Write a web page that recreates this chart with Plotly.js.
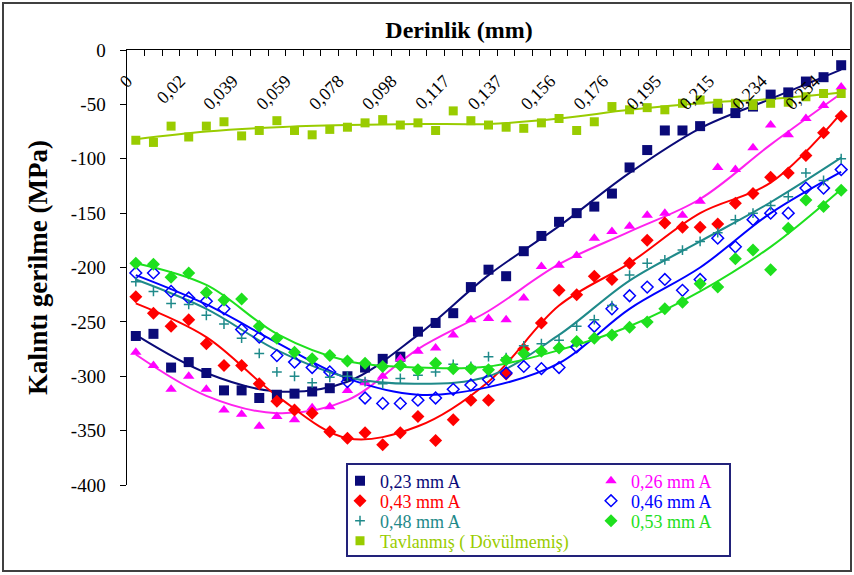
<!DOCTYPE html>
<html>
<head>
<meta charset="utf-8">
<script src="https://cdn.plot.ly/plotly-3.0.1.min.js"></script>
<style>html,body{margin:0;padding:0;background:#fff;}#chart{width:854px;height:575px;}</style>
</head>
<body>
<div id="chart"></div>
<script>
// ---- data ----
const depthLabels = ["0","0,02","0,039","0,059","0,078","0,098","0,117","0,137","0,156","0,176","0,195","0,215","0,234","0,254"];
const labelEvery = 3; // one depth label every 3 categories

const seriesNames = ["0,23 mm A","0,26 mm A","0,43 mm A","0,46 mm A","0,48 mm A","0,53 mm A","Tavlanmış ( Dövülmemiş)"];

const s023 = [-263,-261,-292,-287,-297,-313,-313,-320,-317,-316,-314,-311,-300,-292,-284,-282,-259,-251,-242,-218,-202,-208,-185,-171,-158,-150,-144,-132,-108,-92,-74,-74,-70,-54,-58,-52,-41,-39,-29,-25,-14];
const s026 = [-278,-290,-312,-300,-312,-331,-335,-346,-337,-340,-329,-328,-313,-306,-300,-284,-277,-274,-262,-248,-247,-248,-228,-199,-198,-189,-173,-167,-162,-152,-150,-152,-139,-108,-110,-90,-69,-78,-63,-51,-34];
const s043 = [-227,-242,-254,-248,-270,-290,-290,-307,-323,-331,-334,-351,-357,-352,-363,-352,-337,-359,-340,-322,-322,-298,-275,-251,-221,-225,-208,-211,-196,-175,-159,-163,-163,-160,-141,-132,-117,-113,-97,-76,-61];
const s046 = [-205,-205,-222,-228,-231,-238,-257,-264,-281,-287,-292,-296,-305,-320,-325,-325,-322,-320,-312,-308,-303,-297,-291,-293,-292,-273,-254,-238,-226,-218,-211,-221,-211,-173,-181,-156,-150,-150,-127,-127,-110];
const s048 = [-213,-222,-233,-234,-244,-252,-265,-279,-296,-300,-306,-301,-300,-305,-307,-302,-299,-296,-289,-291,-282,-283,-272,-270,-267,-254,-248,-235,-207,-196,-193,-184,-176,-168,-156,-150,-143,-135,-113,-120,-100];
const s053 = [-196,-197,-209,-205,-223,-230,-229,-254,-265,-278,-284,-281,-286,-288,-291,-290,-294,-288,-293,-293,-294,-285,-279,-277,-274,-268,-265,-262,-255,-250,-238,-232,-215,-218,-192,-184,-202,-164,-138,-144,-129];
const sTav = [-83,-85,-70,-80,-70,-66,-79,-74,-65,-74,-78,-73,-71,-67,-64,-69,-67,-74,-56,-65,-69,-71,-72,-67,-63,-74,-66,-52,-55,-53,-55,-49,-46,-49,-49,-51,-49,-48,-43,-40,-40];

// trend lines, read at every 4th category
const fitCategories = [0,4,8,12,16,20,24,28,32,36,40];
const fit023 = [-262,-297,-314,-305,-262,-207,-162,-113,-72,-45,-18];
const fit026 = [-280,-318,-334,-322,-275,-240,-197,-167,-137,-87,-40];
const fit043 = [-233,-264,-318,-357,-346,-305,-235,-196,-150,-122,-58];
const fit046 = [-207,-234,-269,-302,-317,-310,-288,-238,-200,-150,-112];
const fit048 = [-211,-238,-276,-301,-307,-300,-262,-212,-176,-140,-99];
const fit053 = [-196,-216,-261,-286,-292,-291,-276,-254,-222,-181,-128];
const fitTav = [-82,-75,-71,-69,-68,-68,-63,-55,-49,-45,-39];

const yTicks = [0,-50,-100,-150,-200,-250,-300,-350,-400];

// ---- build ----
const pointsData = [s023,s026,s043,s046,s048,s053,sTav];
const fitsData = [fit023,fit026,fit043,fit046,fit048,fit053,fitTav];
const colors = ["#0a0a78","#ff00ff","#ff0000","#0000ff","#1f8a8a","#1ee01e","#99cc00"];
const lineColors = ["#0a0a78","#ff22ee","#ff0000","#0000ff","#1f8a8a","#1ee01e","#99cc00"];
const symbols = ["square","triangle-up","diamond","diamond-open","cross-thin-open","diamond","square"];
const sizes = [10,10,10,9,7,10,9];
const legendRow = ["legend","legend","legend2","legend2","legend3","legend3","legend4"];

const nCat = s023.length;
const cats = Array.from({length:nCat},(_,i)=>i);

const traces = [];
fitsData.forEach((f,k)=>{
  traces.push({x:fitCategories,y:f,mode:"lines",line:{color:lineColors[k],width:2,shape:"spline",smoothing:1},
    showlegend:false,hoverinfo:"skip"});
});
pointsData.forEach((s,k)=>{
  const open = symbols[k].indexOf("open")>=0;
  traces.push({x:cats,y:s,mode:"markers",legend:legendRow[k],
    name:'<span style="color:'+colors[k]+'">'+seriesNames[k]+'</span>',
    marker:{symbol:symbols[k],size:sizes[k],color:colors[k],line:{color:colors[k],width:open?1.5:0}}});
});

const boundaryTicks = Array.from({length:nCat+1},(_,i)=>i-0.5);
const labelPos = depthLabels.map((_,j)=>j*labelEvery-0.5);

const W=854,H=575,ML=127,MR=4,MT=50,MB=90;
const PW=W-ML-MR, PH=H-MT-MB;
const serif = "Liberation Serif, Times New Roman, serif";
const px = v=>(v-ML)/PW, py = v=>1-(v-MT)/PH;

function legendAt(yc){
  return {orientation:"h",x:px(340),y:py(yc),xanchor:"left",yanchor:"middle",
    bgcolor:"rgba(0,0,0,0)",borderwidth:0,font:{size:18,family:serif},
    entrywidth:206,entrywidthmode:"pixels",itemwidth:30,traceorder:"normal"};
}

const layout = {
  width:W,height:H,
  margin:{l:ML,r:MR,t:MT,b:MB,pad:0,autoexpand:false},
  paper_bgcolor:"#fff",plot_bgcolor:"#fff",
  font:{family:serif,color:"#000",size:18},
  showlegend:true,
  title:{text:"<b>Derinlik (mm)</b>",font:{size:24,family:serif,color:"#000"},
    xref:"container",yref:"container",x:459/W,xanchor:"center",y:1-30/H,yanchor:"middle"},
  xaxis:{range:[-0.5,nCat-0.5],side:"top",showline:true,linecolor:"#000",linewidth:1.5,
    ticks:"inside",ticklen:6,tickcolor:"#000",tickwidth:1,tickmode:"array",tickvals:boundaryTicks,
    showticklabels:false,showgrid:false,zeroline:false},
  xaxis2:{overlaying:"x",anchor:"free",position:1-16/PH,side:"bottom",range:[-0.5,nCat-0.5],
    tickmode:"array",tickvals:labelPos,ticktext:depthLabels,tickangle:-45,ticks:"",
    showline:false,showgrid:false,zeroline:false,tickfont:{size:18,family:serif}},
  yaxis:{range:[-400,0],showline:true,linecolor:"#000",linewidth:1.5,ticks:"outside",ticklen:6,tickcolor:"#000",
    tickmode:"array",tickvals:yTicks,ticktext:yTicks.map(v=>String(v)),ticklabelstandoff:10,
    tickfont:{size:19,family:serif},showgrid:false,zeroline:false,
    title:{text:"<b>Kalıntı gerilme (MPa)</b>",font:{size:27,family:serif},standoff:15}},
  legend:legendAt(481),
  legend2:legendAt(501),
  legend3:legendAt(521),
  legend4:legendAt(541),
  shapes:[
    {type:"rect",xref:"paper",yref:"paper",x0:px(3),x1:px(851),y0:py(571),y1:py(3),
      line:{color:"#404040",width:2},fillcolor:"rgba(0,0,0,0)"},
    {type:"rect",xref:"paper",yref:"paper",layer:"below",x0:px(347),x1:px(730),y0:py(556),y1:py(464),
      line:{color:"#22227a",width:2},fillcolor:"#fff"}
  ]
};

traces.push({x:[],y:[],xaxis:"x2",yaxis:"y",showlegend:false,hoverinfo:"skip",mode:"markers"});

Plotly.newPlot("chart",traces,layout,{displayModeBar:false,staticPlot:true});
</script>
</body>
</html>
